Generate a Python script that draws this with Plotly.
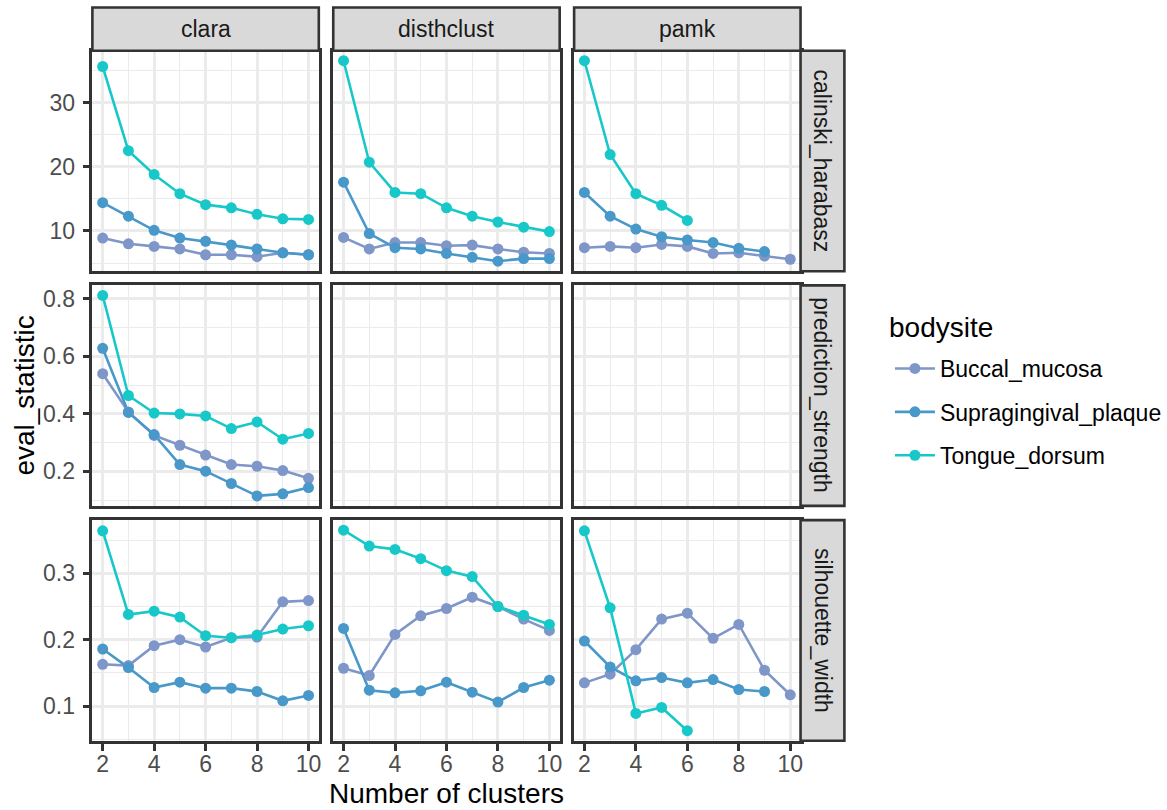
import plotly.graph_objects as go
from plotly.subplots import make_subplots

# ---- data -------------------------------------------------------------
k_clusters = [2, 3, 4, 5, 6, 7, 8, 9, 10]
methods = ["clara", "disthclust", "pamk"]
statistics = ["calinski_harabasz", "prediction_strength", "silhouette_width"]
bodysites = ["Buccal_mucosa", "Supragingival_plaque", "Tongue_dorsum"]

# calinski_harabasz
clara_ch_buccal = [8.9, 8.0, 7.6, 7.2, 6.3, 6.3, 6.0, 6.6, 6.3]
clara_ch_supra = [14.4, 12.3, 10.1, 8.9, 8.4, 7.8, 7.2, 6.6, 6.3]
clara_ch_tongue = [35.6, 22.5, 18.8, 15.8, 14.1, 13.6, 12.6, 11.9, 11.8]
disth_ch_buccal = [9.0, 7.2, 8.2, 8.2, 7.7, 7.8, 7.2, 6.7, 6.5]
disth_ch_supra = [17.6, 9.6, 7.4, 7.2, 6.5, 5.9, 5.3, 5.7, 5.7]
disth_ch_tongue = [36.5, 20.7, 16.0, 15.8, 13.6, 12.3, 11.4, 10.6, 9.9]
pamk_ch_buccal = [7.4, 7.6, 7.4, 7.9, 7.6, 6.5, 6.6, 6.1, 5.6]
pamk_ch_supra = [16.0, 12.3, 10.3, 9.1, 8.6, 8.2, 7.3, 6.8]
pamk_ch_tongue = [36.5, 21.9, 15.8, 14.0, 11.65]

# prediction_strength (clara only)
clara_ps_buccal = [0.540, 0.407, 0.325, 0.291, 0.257, 0.224, 0.218, 0.203, 0.176]
clara_ps_supra = [0.628, 0.405, 0.328, 0.224, 0.201, 0.158, 0.115, 0.122, 0.144]
clara_ps_tongue = [0.812, 0.464, 0.403, 0.400, 0.393, 0.349, 0.372, 0.312, 0.332]

# silhouette_width
clara_sw_buccal = [0.163, 0.161, 0.191, 0.200, 0.189, 0.203, 0.204, 0.257, 0.259]
clara_sw_supra = [0.186, 0.158, 0.128, 0.136, 0.127, 0.127, 0.122, 0.108, 0.116]
clara_sw_tongue = [0.364, 0.238, 0.243, 0.234, 0.206, 0.203, 0.207, 0.216, 0.221]
disth_sw_buccal = [0.157, 0.146, 0.208, 0.236, 0.247, 0.264, 0.250, 0.231, 0.214]
disth_sw_supra = [0.217, 0.124, 0.120, 0.123, 0.136, 0.121, 0.106, 0.128, 0.139]
disth_sw_tongue = [0.365, 0.341, 0.336, 0.322, 0.304, 0.295, 0.250, 0.237, 0.223]
pamk_sw_buccal = [0.135, 0.148, 0.185, 0.231, 0.240, 0.202, 0.223, 0.154, 0.117]
pamk_sw_supra = [0.198, 0.159, 0.138, 0.143, 0.135, 0.140, 0.125, 0.122]
pamk_sw_tongue = [0.364, 0.248, 0.089, 0.098, 0.063]

colors = {
    "Buccal_mucosa": "#7F96C9",
    "Supragingival_plaque": "#4898CA",
    "Tongue_dorsum": "#18C8C9",
}

# (row, col) -> {bodysite: values}
panels = {
    (1, 1): dict(zip(bodysites, [clara_ch_buccal, clara_ch_supra, clara_ch_tongue])),
    (1, 2): dict(zip(bodysites, [disth_ch_buccal, disth_ch_supra, disth_ch_tongue])),
    (1, 3): dict(zip(bodysites, [pamk_ch_buccal, pamk_ch_supra, pamk_ch_tongue])),
    (2, 1): dict(zip(bodysites, [clara_ps_buccal, clara_ps_supra, clara_ps_tongue])),
    (3, 1): dict(zip(bodysites, [clara_sw_buccal, clara_sw_supra, clara_sw_tongue])),
    (3, 2): dict(zip(bodysites, [disth_sw_buccal, disth_sw_supra, disth_sw_tongue])),
    (3, 3): dict(zip(bodysites, [pamk_sw_buccal, pamk_sw_supra, pamk_sw_tongue])),
}

# ---- geometry (pixels on a 1167 x 810 canvas) -------------------------
W, H = 1167, 810
col_px = [(92.7, 319.9), (334.4, 561.6), (576.1, 803.3)]
row_px = [(50.7, 271.2), (285.4, 505.9), (520.1, 740.7)]
strip_top = 7.5
strip_right = 847.3

def px_x(v):
    return v / W

def px_y(v):
    return 1 - v / H

FONT = "Liberation Sans"
GRID = "#EBEBEB"
DARK = "#333333"
LW = 2.6
TXT = 23
TITLE = 28

fig = make_subplots(rows=3, cols=3)

# lines first, then points on top (as separate layers)
for (r, c), series in panels.items():
    for site in bodysites:
        vals = series[site]
        fig.add_trace(go.Scatter(
            x=k_clusters[:len(vals)], y=vals, mode="lines",
            line=dict(color=colors[site], width=LW),
            showlegend=False, hoverinfo="skip"), row=r, col=c)
for (r, c), series in panels.items():
    for site in bodysites:
        vals = series[site]
        fig.add_trace(go.Scatter(
            x=k_clusters[:len(vals)], y=vals, mode="markers",
            marker=dict(color=colors[site], size=11, line=dict(width=0)),
            name=site, showlegend=False), row=r, col=c)

# empty facets still get their panel drawn
for r in (1, 2, 3):
    for c in (1, 2, 3):
        if (r, c) not in panels:
            fig.add_trace(go.Scatter(x=[None], y=[None], mode="markers",
                                     showlegend=False, hoverinfo="skip"), row=r, col=c)

# legend entries
for site in bodysites:
    fig.add_trace(go.Scatter(
        x=[None], y=[None], mode="lines+markers", name=site,
        line=dict(color=colors[site], width=LW),
        marker=dict(color=colors[site], size=11),
        legendgroup=site, showlegend=True), row=1, col=1)

# y ranges per facet row (free y scales, 5% expansion)
row_ranges = {}
for r in (1, 2, 3):
    allv = [v for (rr, cc), s in panels.items() if rr == r for vals in s.values() for v in vals]
    lo, hi = min(allv), max(allv)
    pad = (hi - lo) * 0.05
    row_ranges[r] = [lo - pad, hi + pad]

x_pad = (max(k_clusters) - min(k_clusters)) * 0.05
x_range = [min(k_clusters) - x_pad, max(k_clusters) + x_pad]

y_major = {1: 10, 2: 0.2, 3: 0.1}

tickfont = dict(family=FONT, size=TXT, color="#4D4D4D")

for r in (1, 2, 3):
    for c in (1, 2, 3):
        idx = (r - 1) * 3 + c
        xa = "xaxis" if idx == 1 else f"xaxis{idx}"
        ya = "yaxis" if idx == 1 else f"yaxis{idx}"
        x0, x1 = col_px[c - 1]
        y0, y1 = row_px[r - 1]
        bottom = r == 3
        left = c == 1
        fig.layout[xa].update(
            domain=[px_x(x0), px_x(x1)], range=x_range,
            tick0=2, dtick=2, showgrid=True, gridcolor=GRID, gridwidth=LW,
            minor=dict(dtick=1, showgrid=True, gridcolor=GRID, gridwidth=1.3),
            zeroline=False, showline=True, mirror=True, linecolor=DARK, linewidth=LW,
            ticks="outside" if bottom else "", ticklen=7, tickwidth=LW, tickcolor=DARK,
            showticklabels=bottom, tickfont=tickfont, ticklabelstandoff=-6,
        )
        fig.layout[ya].update(
            domain=[px_y(y1), px_y(y0)], range=row_ranges[r],
            tick0=0, dtick=y_major[r], showgrid=True, gridcolor=GRID, gridwidth=LW,
            minor=dict(dtick=y_major[r] / 2, showgrid=True, gridcolor=GRID, gridwidth=1.3),
            zeroline=False, showline=True, mirror=True, linecolor=DARK, linewidth=LW,
            ticks="outside" if left else "", ticklen=7, tickwidth=LW, tickcolor=DARK,
            showticklabels=left, tickfont=tickfont, ticklabelstandoff=3,
        )

shapes = []
annotations = []
# column strips
for c, name in enumerate(methods):
    x0, x1 = col_px[c]
    shapes.append(dict(type="rect", xref="paper", yref="paper",
                       x0=px_x(x0), x1=px_x(x1), y0=px_y(row_px[0][0]), y1=px_y(strip_top),
                       fillcolor="#D9D9D9", line=dict(color=DARK, width=LW), layer="above"))
    annotations.append(dict(text=name, xref="paper", yref="paper",
                            x=px_x((x0 + x1) / 2), y=px_y((strip_top + row_px[0][0]) / 2),
                            showarrow=False, xanchor="center", yanchor="middle",
                            font=dict(family=FONT, size=TXT, color="#1A1A1A")))
# row strips
for r, name in enumerate(statistics):
    y0, y1 = row_px[r]
    shapes.append(dict(type="rect", xref="paper", yref="paper",
                       x0=px_x(col_px[2][1]), x1=px_x(strip_right), y0=px_y(y1), y1=px_y(y0),
                       fillcolor="#D9D9D9", line=dict(color=DARK, width=LW), layer="above"))
    annotations.append(dict(text=name, xref="paper", yref="paper",
                            x=px_x((col_px[2][1] + strip_right) / 2), y=px_y((y0 + y1) / 2),
                            showarrow=False, xanchor="center", yanchor="middle", textangle=90,
                            font=dict(family=FONT, size=TXT, color="#1A1A1A")))

# axis titles
annotations.append(dict(text="Number of clusters", xref="paper", yref="paper",
                        x=px_x((col_px[0][0] + col_px[2][1]) / 2), y=px_y(793),
                        showarrow=False, xanchor="center", yanchor="middle",
                        font=dict(family=FONT, size=TITLE, color="#000000")))
annotations.append(dict(text="eval_statistic", xref="paper", yref="paper",
                        x=px_x(25), y=px_y((row_px[0][0] + row_px[2][1]) / 2),
                        showarrow=False, xanchor="center", yanchor="middle", textangle=-90,
                        font=dict(family=FONT, size=TITLE, color="#000000")))
# legend title
annotations.append(dict(text="bodysite", xref="paper", yref="paper",
                        x=px_x(890), y=px_y(327), showarrow=False,
                        xanchor="left", yanchor="middle",
                        font=dict(family=FONT, size=TITLE, color="#000000")))

fig.update_layout(
    width=W, height=H,
    margin=dict(l=0, r=0, t=0, b=0),
    paper_bgcolor="white", plot_bgcolor="white",
    font=dict(family=FONT),
    shapes=shapes, annotations=annotations,
    legend=dict(
        x=px_x(893), y=px_y(347), xanchor="left", yanchor="top",
        bgcolor="rgba(0,0,0,0)",
        font=dict(family=FONT, size=TXT, color="#000000"),
        tracegroupgap=10.5, itemwidth=40,
    ),
)

fig.write_html("out.html")
